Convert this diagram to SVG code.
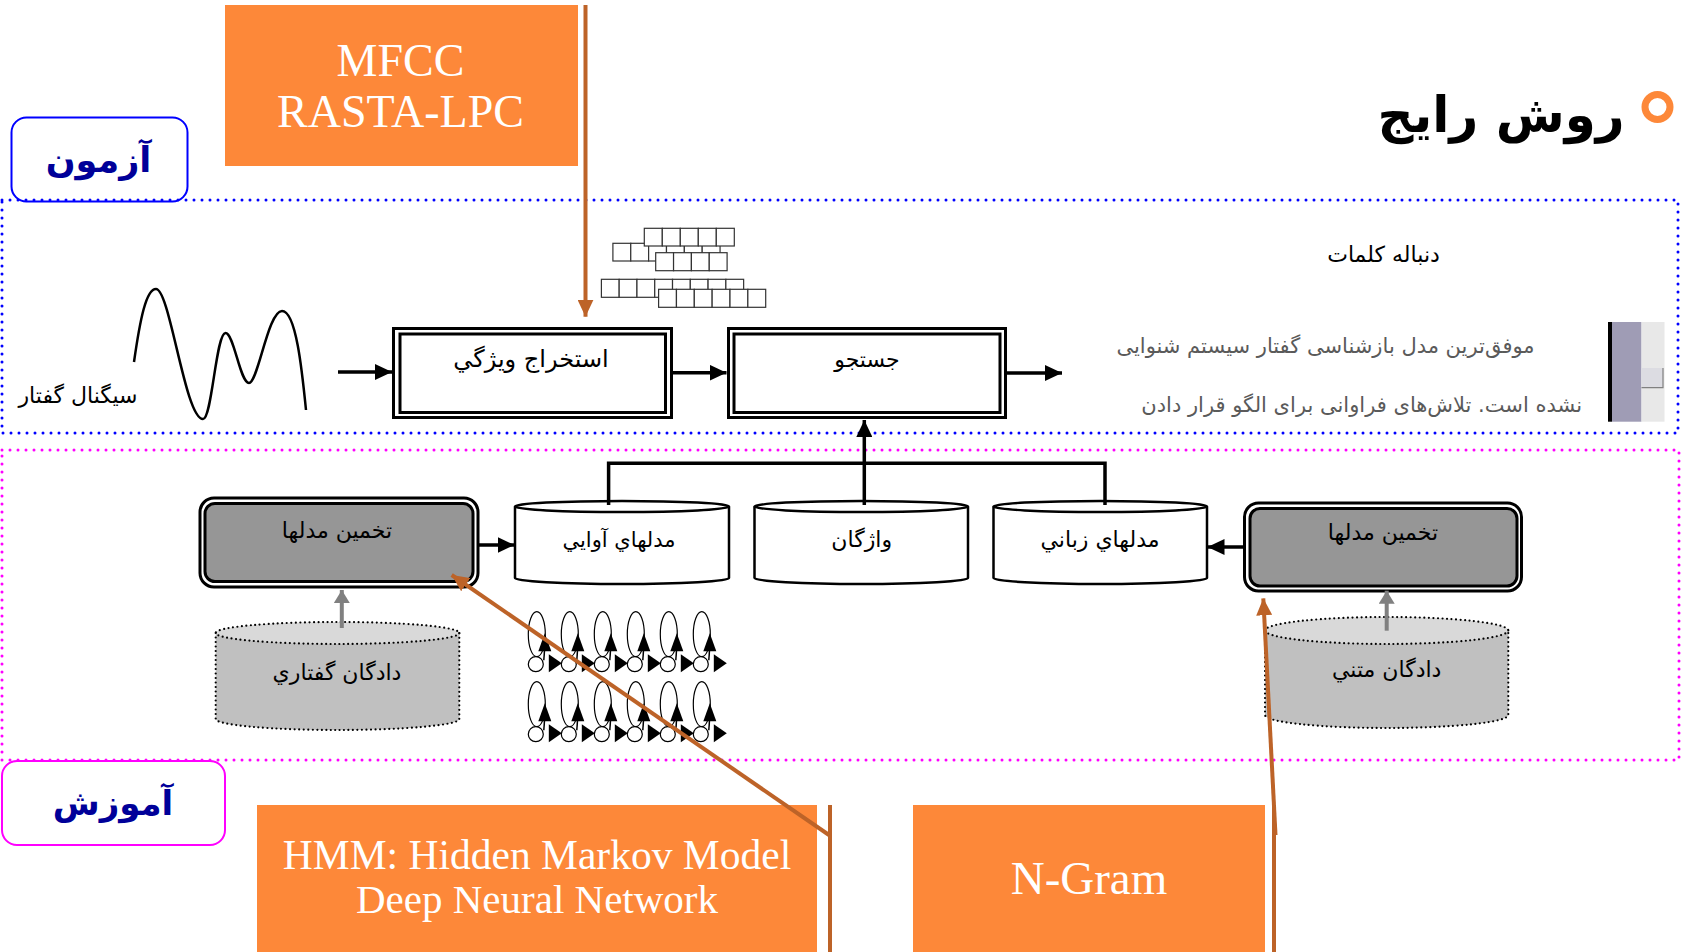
<svg xmlns="http://www.w3.org/2000/svg" width="1681" height="952" viewBox="0 0 1681 952">
<style>
.ar{font-family:"DejaVu Sans",sans-serif;}
.lbl{font-size:22px;fill:#000;text-anchor:middle;}
.en{font-family:"Liberation Serif","DejaVu Serif",serif;fill:#fff;text-anchor:middle;}
.orange{fill:#FD8839;}
.brown{fill:none;stroke:#BD6328;stroke-width:4;}
.blk{fill:none;stroke:#000;stroke-width:3.5;}
.gry{fill:none;stroke:#808080;stroke-width:4;}
.dbl{fill:#fff;stroke:#000;stroke-width:3;}
.cyl{fill:#fff;stroke:#000;stroke-width:2.5;}
.dcyl{stroke:#000;stroke-width:2.2;stroke-dasharray:0 4.5;stroke-linecap:round;}
.sq{fill:#fff;stroke:#333;stroke-width:1.2;}
.navy{fill:#000099;font-weight:bold;text-anchor:middle;}
.gtxt{font-size:21px;fill:#5a5a5a;text-anchor:middle;}
</style>
<defs>
<marker id="ahB" markerUnits="userSpaceOnUse" markerWidth="18" markerHeight="16" refX="17" refY="8" orient="auto"><path d="M0,0 L17,8 L0,16 z" fill="#000"/></marker>
<marker id="ahG" markerUnits="userSpaceOnUse" markerWidth="14" markerHeight="16" refX="13" refY="8" orient="auto"><path d="M0,0 L13,8 L0,16 z" fill="#808080"/></marker>
<marker id="ahR" markerUnits="userSpaceOnUse" markerWidth="18" markerHeight="16" refX="17" refY="8" orient="auto"><path d="M0,0 L17,8 L0,16 z" fill="#BD6328"/></marker>
<g id="hmm">
<ellipse cx="1" cy="-30" rx="8.5" ry="22.5" fill="none" stroke="#000" stroke-width="1.2"/>
<circle cx="0" cy="0" r="7.5" fill="#fff" stroke="#000" stroke-width="1.2"/>
<line x1="8" y1="-4" x2="9" y2="-18" stroke="#000" stroke-width="1.5"/>
<polygon points="9,-31 2.5,-13 15.5,-13" fill="#000"/>
<polygon points="13,-10 13,8 26,-1" fill="#000"/>
</g>
</defs>
<rect width="1681" height="952" fill="#fff"/>

<g id="title">
<text class="ar" x="1501" y="132" font-size="50" font-weight="bold" text-anchor="middle" fill="#000">روش رايج</text>
<circle cx="1657.5" cy="107" r="12.5" fill="none" stroke="#FD8839" stroke-width="7"/>
</g>

<g id="test-label">
<rect x="11.5" y="117.5" width="176" height="84" rx="15" fill="#fff" stroke="#0000FF" stroke-width="2"/>
<text class="ar navy" x="98.5" y="172" font-size="35">آزمون</text>
</g>
<g id="train-label">
<rect x="2" y="761" width="223" height="84" rx="15" fill="#fff" stroke="#FF00FF" stroke-width="2"/>
<text class="ar navy" x="113" y="815" font-size="34">آموزش</text>
</g>

<g id="test-region">
<rect x="2" y="200" width="1676" height="233" fill="none" stroke="#0000FF" stroke-width="3" stroke-dasharray="0 8" stroke-linecap="round"/>
</g>
<g id="train-region">
<rect x="2" y="450" width="1677" height="310" fill="none" stroke="#FF00FF" stroke-width="3" stroke-dasharray="0 8" stroke-linecap="round"/>
</g>

<g id="mfcc">
<rect class="orange" x="225" y="5" width="353" height="161"/>
<text class="en" x="400.5" y="76" font-size="46">MFCC</text>
<text class="en" x="400.5" y="127" font-size="46">RASTA-LPC</text>
</g>
<g id="hmm-box">
<rect class="orange" x="257" y="805" width="560" height="147"/>
<text class="en" x="537" y="869" font-size="41.5">HMM: Hidden Markov Model</text>
<text class="en" x="537" y="913" font-size="41">Deep Neural Network</text>
</g>
<g id="ngram">
<rect class="orange" x="913" y="805" width="352" height="147"/>
<text class="en" x="1089" y="894" font-size="47">N-Gram</text>
</g>

<g id="signal">
<path d="M134,362 C140,320 146,289 156,289 C170,289 185,419 203,419 C212,419 216,333 225.5,333 C234,333 240,383 249,383 C258,383 268,311 282,311 C296,311 302,370 306,410" fill="none" stroke="#000" stroke-width="2.5"/>
<text class="ar lbl" x="78" y="403">سيگنال گفتار</text>
</g>

<g id="features">
<g class="sq">
<rect x="612.9" y="243.3" width="17.86" height="17.7"/><rect x="630.76" y="243.3" width="17.86" height="17.7"/><rect x="648.62" y="243.3" width="17.86" height="17.7"/><rect x="666.48" y="243.3" width="17.86" height="17.7"/><rect x="684.34" y="243.3" width="17.86" height="17.7"/><rect x="702.2" y="243.3" width="17.86" height="17.7"/>
<rect x="644.3" y="228.3" width="18" height="17.7"/><rect x="662.3" y="228.3" width="18" height="17.7"/><rect x="680.3" y="228.3" width="18" height="17.7"/><rect x="698.3" y="228.3" width="18" height="17.7"/><rect x="716.3" y="228.3" width="18" height="17.7"/>
<rect x="655.7" y="252.7" width="17.85" height="18"/><rect x="673.55" y="252.7" width="17.85" height="18"/><rect x="691.4" y="252.7" width="17.85" height="18"/><rect x="709.25" y="252.7" width="17.85" height="18"/>
<rect x="601.4" y="279.3" width="17.78" height="18"/><rect x="619.18" y="279.3" width="17.78" height="18"/><rect x="636.96" y="279.3" width="17.78" height="18"/><rect x="654.74" y="279.3" width="17.78" height="18"/><rect x="672.52" y="279.3" width="17.78" height="18"/><rect x="690.3" y="279.3" width="17.78" height="18"/><rect x="708.08" y="279.3" width="17.78" height="18"/><rect x="725.86" y="279.3" width="17.78" height="18"/>
<rect x="658.6" y="289.3" width="17.85" height="18"/><rect x="676.45" y="289.3" width="17.85" height="18"/><rect x="694.3" y="289.3" width="17.85" height="18"/><rect x="712.15" y="289.3" width="17.85" height="18"/><rect x="730" y="289.3" width="17.85" height="18"/><rect x="747.85" y="289.3" width="17.85" height="18"/>
</g>
</g>

<g id="feature-extraction">
<rect class="dbl" x="393.5" y="328.5" width="278" height="89"/>
<rect class="dbl" x="400" y="334" width="265.5" height="78.5"/>
<text class="ar" x="531" y="367" font-size="24" text-anchor="middle">استخراج ويژگي</text>
</g>
<g id="search">
<rect class="dbl" x="728.5" y="328.5" width="277" height="89"/>
<rect class="dbl" x="734" y="334" width="266" height="78.5"/>
<text class="ar lbl" x="867" y="367">جستجو</text>
</g>

<g id="output-text">
<text class="ar lbl" x="1383.5" y="262">دنباله كلمات</text>
<text class="ar gtxt" x="1325.5" y="353">موفق‌ترین مدل بازشناسی گفتار سیستم شنوایی</text>
<text class="ar gtxt" x="1361.7" y="412" font-size="21.8">نشده است. تلاش‌های فراوانی برای الگو قرار دادن</text>
<rect x="1608" y="322" width="4" height="99.7" fill="#000"/>
<rect x="1612" y="322" width="29.5" height="99.7" fill="#9F9CB5"/>
<rect x="1641.5" y="322" width="23" height="99.7" fill="#E8E8E8"/>
<rect x="1641.5" y="368" width="21.5" height="19.7" fill="#DCDCE2"/>
<polyline points="1663,368 1663,387.7 1641.5,387.7" fill="none" stroke="#808080" stroke-width="1.2"/>
</g>

<g id="estimate-left">
<rect x="200" y="498" width="278" height="89" rx="14" fill="#fff" stroke="#000" stroke-width="3"/>
<rect x="205" y="503.5" width="268" height="78" rx="10" fill="#969696" stroke="#000" stroke-width="3"/>
<text class="ar lbl" x="337" y="538">تخمين مدلها</text>
</g>
<g id="estimate-right">
<rect x="1244.5" y="503" width="277" height="88" rx="14" fill="#fff" stroke="#000" stroke-width="3"/>
<rect x="1250" y="508.5" width="267" height="77.5" rx="10" fill="#969696" stroke="#000" stroke-width="3"/>
<text class="ar lbl" x="1383" y="540">تخمين مدلها</text>
</g>

<g id="acoustic-models">
<path class="cyl" d="M515,506.5 L515,578 A107,6 0 0 0 729,578 L729,506.5"/>
<ellipse class="cyl" cx="622" cy="506.5" rx="107" ry="5.5"/>
<text class="ar" x="619" y="547" font-size="21" text-anchor="middle">مدلهاي آوايي</text>
</g>
<g id="lexicon">
<path class="cyl" d="M754.5,506.5 L754.5,578 A106.75,6 0 0 0 968,578 L968,506.5"/>
<ellipse class="cyl" cx="861.25" cy="506.5" rx="106.75" ry="5.5"/>
<text class="ar lbl" x="861.7" y="547">واژگان</text>
</g>
<g id="language-models">
<path class="cyl" d="M993.5,506.5 L993.5,578 A106.75,6 0 0 0 1207,578 L1207,506.5"/>
<ellipse class="cyl" cx="1100.25" cy="506.5" rx="106.75" ry="5.5"/>
<text class="ar lbl" x="1100" y="547">مدلهاي زباني</text>
</g>

<g id="speech-corpus">
<path d="M215.7,633 L215.7,719 A121.8,11 0 0 0 459.3,719 L459.3,633 z" fill="#C0C0C0"/>
<ellipse cx="337.5" cy="633" rx="121.8" ry="11" fill="#D9D9D9"/>
<path class="dcyl" d="M215.7,633 L215.7,719 A121.8,11 0 0 0 459.3,719 L459.3,633" fill="none"/>
<ellipse class="dcyl" cx="337.5" cy="633" rx="121.8" ry="11" fill="none"/>
<text class="ar lbl" x="337" y="680">دادگان گفتاري</text>
</g>
<g id="text-corpus">
<path d="M1265,630.5 L1265,715 A121.65,13 0 0 0 1508.3,715 L1508.3,630.5 z" fill="#C0C0C0"/>
<ellipse cx="1386.65" cy="630.5" rx="121.65" ry="13.5" fill="#D9D9D9"/>
<path class="dcyl" d="M1265,630.5 L1265,715 A121.65,13 0 0 0 1508.3,715 L1508.3,630.5" fill="none"/>
<ellipse class="dcyl" cx="1386.65" cy="630.5" rx="121.65" ry="13.5" fill="none"/>
<text class="ar lbl" x="1386.7" y="677">دادگان متني</text>
</g>

<g id="hmm-states">
<use href="#hmm" x="535.8" y="664.2"/><use href="#hmm" x="568.8" y="664.2"/><use href="#hmm" x="601.8" y="664.2"/><use href="#hmm" x="634.8" y="664.2"/><use href="#hmm" x="667.8" y="664.2"/><use href="#hmm" x="700.8" y="664.2"/>
<use href="#hmm" x="535.8" y="734.2"/><use href="#hmm" x="568.8" y="734.2"/><use href="#hmm" x="601.8" y="734.2"/><use href="#hmm" x="634.8" y="734.2"/><use href="#hmm" x="667.8" y="734.2"/><use href="#hmm" x="700.8" y="734.2"/>
</g>

<g id="connectors">
<line class="blk" x1="338" y1="372" x2="392" y2="372" marker-end="url(#ahB)"/>
<line class="blk" x1="672" y1="372.7" x2="726.5" y2="372.7" marker-end="url(#ahB)"/>
<line class="blk" x1="1007" y1="373" x2="1062" y2="373" marker-end="url(#ahB)"/>
<polyline class="blk" points="608.6,505 608.6,463.3 1105,463.3 1105,505" stroke-width="3"/>
<line class="blk" x1="864.3" y1="505" x2="864.3" y2="420" stroke-width="3" marker-end="url(#ahB)"/>
<line class="blk" x1="479" y1="545" x2="514.5" y2="545" marker-end="url(#ahB)"/>
<line class="blk" x1="1243" y1="547" x2="1207.5" y2="547" marker-end="url(#ahB)"/>
<line class="gry" x1="341.8" y1="628" x2="341.8" y2="590" marker-end="url(#ahG)"/>
<line class="gry" x1="1386.7" y1="630.7" x2="1386.7" y2="590.7" marker-end="url(#ahG)"/>
<line class="brown" x1="585.5" y1="5" x2="585.5" y2="316.7" marker-end="url(#ahR)"/>
<line class="brown" x1="830" y1="805" x2="830" y2="952"/>
<line class="brown" x1="829" y1="835" x2="451.7" y2="575" marker-end="url(#ahR)"/>
<line class="brown" x1="1274" y1="805" x2="1274" y2="952"/>
<line class="brown" x1="1275.5" y1="835" x2="1263.3" y2="598.3" marker-end="url(#ahR)"/>
</g>
</svg>
